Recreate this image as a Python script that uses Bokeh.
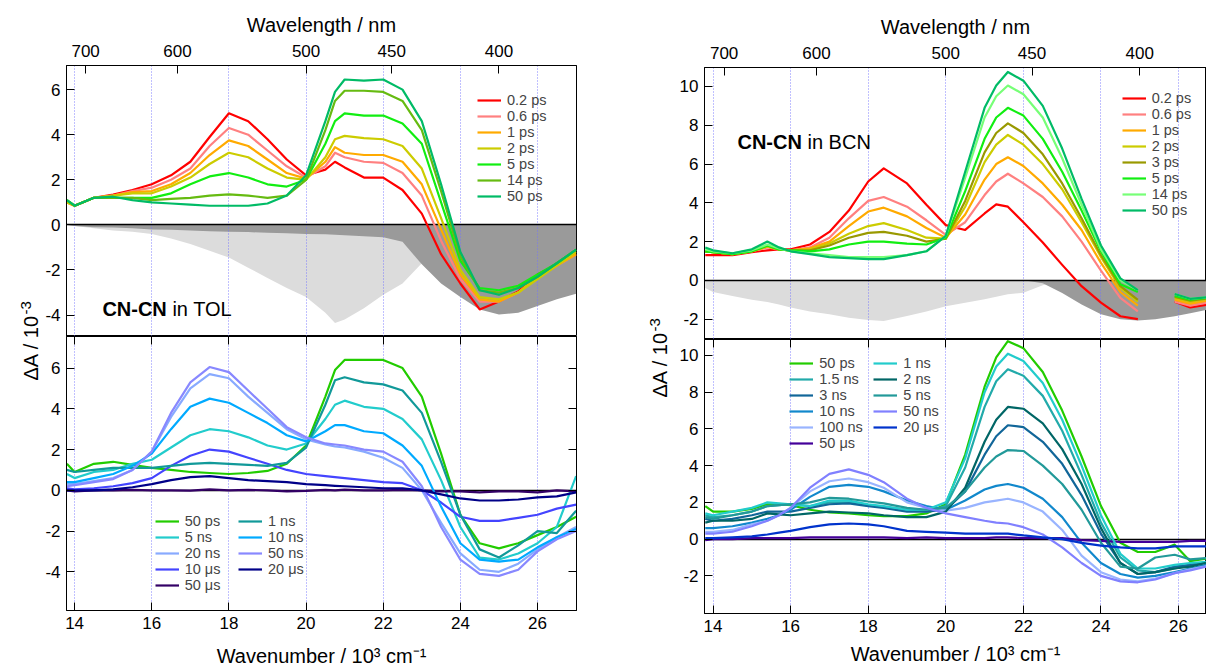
import math
from bokeh.plotting import figure
from bokeh.models import (Range1d, FixedTicker, LinearAxis, CustomJSTickFormatter,
                          Legend, LegendItem, Label)
from bokeh.layouts import row, column
from bokeh.embed import file_html
from bokeh.resources import INLINE

NaN = float("nan")
FONT = "Liberation Sans"

# ---------------- axes / ticks ----------------
WL_TICKS = [700, 600, 500, 450, 400]          # nm, top axis
GRID_X = [14, 16, 18, 20, 22, 24, 26]          # 10^3 cm^-1
Y_TICKS_TOL = [-4, -2, 0, 2, 4, 6]
Y_TICKS_BCN = [-2, 0, 2, 4, 6, 8, 10]

# ---------------- CN-CN in TOL ----------------
X_TOL = [13.8, 14.0, 14.5, 15.0, 15.5, 16.0, 16.5, 17.0, 17.5, 18.0, 18.5, 19.0, 19.5, 20.0,
         20.5, 20.75, 21.0, 21.5, 22.0, 22.5, 23.0, 23.5, 24.0, 24.5, 25.0, 25.5, 26.0, 26.5, 27.0]

TOL_EMI = [0.0, -0.05, -0.15, -0.25, -0.3, -0.4, -0.6, -0.85, -1.15, -1.45, -1.9, -2.35, -2.8, -3.2,
           -3.9, -4.35, -4.2, -3.7, -3.1, -2.6, -1.7, 0.0, 0.0, 0.0, 0.0, 0.0, 0.0, 0.0, 0.0]
TOL_ABS = [0.0, -0.05, -0.1, -0.12, -0.15, -0.2, -0.22, -0.25, -0.28, -0.3, -0.32, -0.35, -0.37, -0.4,
           -0.42, -0.44, -0.46, -0.5, -0.55, -0.75, -1.75, -2.6, -3.2, -3.75, -3.97, -3.9, -3.6, -3.3, -3.05]

TOL_LABELS_PS = ["0.2 ps", "0.6 ps", "1 ps", "2 ps", "5 ps", "14 ps", "50 ps"]
TOL_COLORS_PS = ["#ff0000", "#ff8080", "#ffaa00", "#cccc00", "#11ee11", "#66bb11", "#00bb66"]
T_02 = [1.0, 0.85, 1.2, 1.35, 1.55, 1.8, 2.2, 2.8, 3.9, 4.95, 4.6, 3.8, 2.9, 2.2,
        2.45, 2.8, 2.55, 2.1, 2.1, 1.55, 0.5, -1.3, -2.6, -3.75, -3.4, -2.95, -2.2, -1.75, -1.3]
T_06 = [1.0, 0.85, 1.2, 1.3, 1.5, 1.65, 2.0, 2.5, 3.5, 4.3, 4.0, 3.3, 2.6, 2.1,
        2.6, 3.2, 3.0, 2.8, 2.75, 2.3, 1.3, -0.7, -2.4, -3.4, -3.4, -3.0, -2.3, -1.8, -1.3]
T_1 = [1.0, 0.85, 1.2, 1.3, 1.45, 1.5, 1.8, 2.3, 3.1, 3.75, 3.5, 2.9, 2.3, 2.05,
       2.8, 3.45, 3.2, 3.1, 3.1, 2.8, 1.8, -0.2, -2.2, -3.3, -3.4, -3.0, -2.3, -1.8, -1.3]
T_2 = [1.0, 0.85, 1.2, 1.3, 1.4, 1.4, 1.7, 2.1, 2.7, 3.2, 3.0, 2.5, 2.1, 2.0,
       3.0, 3.8, 3.95, 3.85, 3.8, 3.5, 2.5, 0.3, -2.0, -3.2, -3.3, -3.0, -2.4, -1.8, -1.2]
T_5 = [1.1, 0.85, 1.2, 1.2, 1.2, 1.2, 1.4, 1.8, 2.15, 2.3, 2.1, 1.8, 1.7, 2.0,
       3.6, 4.6, 4.95, 4.85, 4.85, 4.5, 3.6, 1.0, -1.6, -2.8, -2.9, -2.7, -2.2, -1.7, -1.1]
T_14 = [1.1, 0.85, 1.2, 1.2, 1.2, 1.1, 1.15, 1.2, 1.3, 1.35, 1.3, 1.2, 1.3, 2.0,
        4.2, 5.5, 5.95, 5.95, 5.9, 5.5, 4.2, 1.5, -1.4, -2.9, -3.0, -2.8, -2.3, -1.7, -1.1]
T_50 = [1.1, 0.85, 1.2, 1.25, 1.1, 1.0, 0.95, 0.9, 0.85, 0.85, 0.85, 0.95, 1.3, 2.2,
        4.6, 5.9, 6.45, 6.4, 6.45, 6.0, 4.6, 1.8, -1.2, -2.9, -3.1, -2.8, -2.3, -1.7, -1.1]

TOL_LABELS_L1 = ["50 ps", "5 ns", "20 ns", "10 μs", "50 μs"]
TOL_COLORS_L1 = ["#22cc00", "#22cccc", "#88aaff", "#4444ff", "#330066"]
TOL_LABELS_L2 = ["1 ns", "10 ns", "50 ns", "20 μs"]
TOL_COLORS_L2 = ["#119999", "#00aaff", "#8888ff", "#000088"]
B_50PS = [1.3, 0.9, 1.3, 1.4, 1.25, 1.1, 1.0, 0.9, 0.85, 0.8, 0.85, 0.95, 1.3, 2.2,
          4.6, 5.9, 6.4, 6.4, 6.4, 6.0, 4.6, 1.8, -1.2, -2.6, -2.85, -2.6, -2.2, -1.8, -1.3]
B_1NS = [1.0, 0.9, 1.0, 1.1, 1.1, 1.1, 1.2, 1.3, 1.35, 1.3, 1.25, 1.2, 1.35, 2.1,
         4.2, 5.4, 5.55, 5.3, 5.2, 4.9, 3.8, 1.4, -1.2, -2.9, -3.3, -2.7, -2.0, -2.1, -1.0]
B_5NS = [0.8, 0.6, 0.9, 1.0, 1.3, 1.5, 2.1, 2.7, 3.0, 2.9, 2.6, 2.2, 2.0, 2.3,
         3.5, 4.2, 4.4, 4.1, 4.0, 3.5, 2.5, 0.5, -1.8, -3.3, -3.4, -3.1, -2.6, -1.8, 0.7]
B_10NS = [0.4, 0.4, 0.6, 0.8, 1.2, 1.8, 3.0, 4.1, 4.5, 4.3, 3.8, 3.3, 2.7, 2.4,
          2.9, 3.2, 3.2, 2.9, 2.8, 2.2, 1.2, -0.8, -2.6, -3.4, -3.5, -3.4, -2.8, -2.3, -1.9]
B_20NS = [0.3, 0.3, 0.45, 0.6, 1.0, 1.9, 3.6, 5.0, 5.7, 5.5, 4.6, 3.8, 3.0, 2.5,
          2.25, 2.15, 2.1, 1.9, 1.6, 1.1, 0.0, -1.6, -3.1, -3.9, -4.0, -3.6, -2.9, -2.3, -1.8]
B_50NS = [0.2, 0.25, 0.4, 0.55, 1.0, 1.9, 3.8, 5.3, 6.05, 5.8, 4.9, 4.0, 3.1, 2.6,
          2.3, 2.25, 2.2, 2.0, 1.9, 1.4, 0.2, -1.8, -3.4, -4.1, -4.2, -3.9, -3.0, -2.4, -2.0]
B_10US = [0.1, 0.05, 0.1, 0.2, 0.35, 0.6, 1.2, 1.7, 2.0, 1.9, 1.6, 1.3, 1.0, 0.8,
          0.7, 0.65, 0.6, 0.5, 0.4, 0.35, 0.0, -0.6, -1.3, -1.5, -1.5, -1.35, -1.2, -0.9, -0.7]
B_20US = [0.0, 0.0, 0.0, 0.05, 0.15, 0.3, 0.5, 0.65, 0.7, 0.6, 0.5, 0.45, 0.4, 0.3,
          0.25, 0.22, 0.2, 0.15, 0.1, 0.1, 0.0, -0.2, -0.4, -0.5, -0.5, -0.45, -0.35, -0.3, -0.1]
B_50US = [0.0, -0.05, 0.0, 0.0, 0.02, 0.0, 0.0, -0.02, 0.05, 0.0, 0.02, 0.0, -0.05, -0.03,
          0.02, 0.0, 0.03, 0.0, 0.0, 0.02, 0.0, -0.05, -0.05, -0.1, -0.05, -0.05, -0.1, 0.0, -0.05]

# ---------------- CN-CN in BCN ----------------
X_BCN = [13.8, 14.0, 14.5, 15.0, 15.4, 15.7, 16.0, 16.5, 17.0, 17.5, 18.0, 18.4, 19.0, 19.5, 20.0,
         20.5, 21.0, 21.3, 21.6, 22.0, 22.5, 23.0, 23.5, 24.0, 24.5, 24.95, 25.4, 25.9, 26.3, 26.9]

BCN_EMI = [-0.4, -0.6, -0.8, -1.0, -1.12, -1.25, -1.4, -1.6, -1.75, -1.93, -2.05, -2.1, -1.84, -1.6, -1.33,
           -1.15, -0.98, -0.85, -0.72, -0.64, -0.25, 0.0, 0.0, 0.0, 0.0, 0.0, 0.0, 0.0, 0.0, 0.0]
BCN_ABS = [0.0, 0.0, 0.0, 0.0, 0.0, 0.0, 0.0, 0.0, 0.0, 0.0, 0.0, 0.0, 0.0, 0.0, 0.0,
           0.0, 0.0, 0.0, 0.0, 0.0, -0.15, -0.65, -1.25, -1.75, -2.0, -2.07, -2.0, -1.85, -1.7, -1.45]

BCN_LABELS_PS = ["0.2 ps", "0.6 ps", "1 ps", "2 ps", "3 ps", "5 ps", "14 ps", "50 ps"]
BCN_COLORS_PS = ["#ff0000", "#ff8080", "#ffaa00", "#cccc00", "#999900", "#11ee11", "#77ff77", "#00bb66"]
R_02 = [1.3, 1.3, 1.3, 1.45, 1.55, 1.6, 1.6, 1.85, 2.5, 3.6, 5.1, 5.78, 5.0, 3.9, 2.85,
        2.6, 3.45, 3.92, 3.8, 3.0, 1.95, 0.8, -0.3, -1.15, -1.85, -2.0, NaN, -1.1, -1.4, -1.2]
R_06 = [1.5, 1.45, 1.35, 1.5, 1.7, 1.6, 1.55, 1.7, 2.2, 3.2, 4.1, 4.3, 3.8, 3.1, 2.35,
        3.0, 4.4, 5.1, 5.5, 5.0, 4.3, 3.3, 2.0, 0.5, -0.9, -1.6, NaN, -1.1, -1.3, -1.1]
R_1 = [1.5, 1.45, 1.35, 1.5, 1.75, 1.6, 1.55, 1.65, 2.0, 2.8, 3.55, 3.75, 3.3, 2.7, 2.2,
       3.4, 5.2, 6.0, 6.35, 5.9, 5.0, 3.9, 2.6, 0.9, -0.6, -1.3, NaN, -1.0, -1.2, -1.0]
R_2 = [1.5, 1.45, 1.35, 1.5, 1.75, 1.6, 1.55, 1.6, 1.9, 2.4, 2.8, 2.95, 2.6, 2.2, 2.15,
       3.8, 6.1, 7.0, 7.5, 7.0, 6.0, 4.7, 3.0, 1.2, -0.4, -1.1, NaN, -0.9, -1.1, -0.9]
R_3 = [1.5, 1.45, 1.35, 1.5, 1.8, 1.6, 1.55, 1.55, 1.8, 2.2, 2.45, 2.5, 2.3, 2.0, 2.15,
       4.1, 6.6, 7.6, 8.1, 7.6, 6.5, 5.0, 3.2, 1.3, -0.3, -1.0, NaN, -0.85, -1.05, -0.9]
R_5 = [1.5, 1.45, 1.35, 1.5, 1.8, 1.6, 1.55, 1.5, 1.6, 1.85, 2.0, 2.0, 1.9, 1.85, 2.2,
       4.6, 7.3, 8.4, 8.9, 8.5, 7.3, 5.6, 3.6, 1.5, -0.2, -0.6, NaN, -0.8, -1.0, -0.85]
R_14 = [1.6, 1.5, 1.4, 1.55, 1.85, 1.65, 1.5, 1.4, 1.3, 1.2, 1.2, 1.2, 1.3, 1.5, 2.3,
        5.3, 8.4, 9.5, 10.05, 9.6, 8.4, 6.3, 3.9, 1.6, 0.0, -0.5, NaN, -0.7, -0.95, -0.85]
R_50 = [1.7, 1.55, 1.4, 1.6, 2.0, 1.7, 1.5, 1.35, 1.2, 1.15, 1.1, 1.1, 1.3, 1.5, 2.3,
        5.6, 8.9, 10.05, 10.75, 10.3, 9.0, 6.8, 4.2, 1.8, 0.1, -0.5, NaN, -0.7, -0.95, -0.85]

BCN_LABELS_L1 = ["50 ps", "1.5 ns", "3 ns", "10 ns", "100 ns", "50 μs"]
BCN_COLORS_L1 = ["#22cc00", "#22aaaa", "#116699", "#1188cc", "#99b4ff", "#440099"]
BCN_LABELS_L2 = ["1 ns", "2 ns", "5 ns", "50 ns", "20 μs"]
BCN_COLORS_L2 = ["#22cccc", "#006666", "#229999", "#8080ff", "#0033cc"]
BB_50PS = [1.8, 1.5, 1.5, 1.65, 1.9, 1.9, 1.85, 1.6, 1.45, 1.4, 1.3, 1.25, 1.25, 1.4, 1.9,
           4.6, 8.3, 9.9, 10.78, 10.4, 9.1, 7.0, 4.5, 1.8, -0.2, -0.7, -0.7, -0.3, -1.2, -1.0]
BB_15NS = [1.3, 1.2, 1.3, 1.5, 1.8, 1.85, 1.9, 1.8, 2.0, 2.0, 1.85, 1.75, 1.6, 1.5, 1.8,
           3.9, 7.2, 8.6, 9.25, 8.9, 7.8, 5.9, 3.5, 0.9, -1.0, -1.7, -1.8, -1.6, -1.4, -1.2]
BB_3NS = [1.1, 1.0, 1.1, 1.3, 1.5, 1.5, 1.5, 1.7, 1.9, 1.95, 1.8, 1.7, 1.5, 1.5, 1.6,
          2.6, 4.6, 5.6, 6.2, 6.1, 5.3, 4.1, 2.4, 0.3, -1.3, -1.9, -1.8, -1.5, -1.4, -1.2]
BB_10NS = [0.6, 0.6, 0.7, 0.9, 1.1, 1.3, 1.6, 2.3, 2.85, 2.95, 2.85, 2.6, 2.1, 1.8, 1.6,
           2.1, 2.7, 2.9, 3.0, 2.8, 2.2, 1.2, -0.2, -1.3, -1.9, -2.1, -2.0, -1.8, -1.6, -1.3]
BB_100NS = [0.4, 0.4, 0.5, 0.8, 1.0, 1.3, 1.7, 2.6, 3.15, 3.3, 3.1, 2.8, 2.0, 1.7, 1.55,
            1.7, 2.0, 2.1, 2.2, 2.0, 1.5, 0.5, -0.9, -1.8, -2.2, -2.3, -2.15, -1.85, -1.65, -1.4]
BB_50US = [-0.05, 0.0, 0.0, 0.05, 0.05, 0.05, 0.05, 0.1, 0.1, 0.1, 0.1, 0.1, 0.05, 0.1, 0.05,
           0.05, 0.05, 0.1, 0.1, 0.05, 0.05, 0.05, -0.05, -0.1, -0.15, -0.15, -0.15, -0.15, -0.1, -0.1]
BB_1NS = [1.4, 1.3, 1.5, 1.7, 2.0, 1.95, 1.9, 1.8, 2.1, 2.1, 1.9, 1.8, 1.6, 1.6, 2.0,
          4.4, 8.0, 9.4, 10.1, 9.7, 8.5, 6.5, 4.0, 1.3, -0.8, -1.6, -1.6, -1.4, -1.3, -1.2]
BB_2NS = [0.9, 1.0, 1.0, 1.1, 1.4, 1.35, 1.3, 1.4, 1.5, 1.45, 1.4, 1.3, 1.2, 1.2, 1.5,
          2.8, 5.3, 6.5, 7.2, 7.1, 6.3, 4.9, 3.0, 0.6, -1.3, -1.9, -1.8, -1.6, -1.5, -1.2]
BB_5NS = [1.2, 1.1, 1.3, 1.5, 1.8, 1.85, 1.9, 2.0, 2.25, 2.2, 2.05, 1.95, 1.7, 1.6, 1.7,
          2.6, 3.9, 4.5, 4.85, 4.8, 4.0, 3.0, 1.6, -0.2, -1.5, -1.6, -1.0, -0.85, -1.1, -1.0]
BB_50NS = [0.3, 0.3, 0.4, 0.7, 1.0, 1.3, 1.7, 2.8, 3.55, 3.8, 3.5, 3.1, 2.2, 1.7, 1.4,
           1.2, 1.0, 0.9, 0.85, 0.65, 0.25, -0.45, -1.3, -2.0, -2.3, -2.35, -2.2, -1.85, -1.7, -1.4]
BB_20US = [0.05, 0.05, 0.1, 0.15, 0.25, 0.35, 0.45, 0.65, 0.8, 0.85, 0.8, 0.7, 0.45, 0.4, 0.35,
           0.3, 0.3, 0.3, 0.3, 0.2, 0.1, 0.0, -0.2, -0.35, -0.45, -0.5, -0.5, -0.4, -0.4, -0.4]

TOL_TOP = [T_02, T_06, T_1, T_2, T_5, T_14, T_50]
TOL_BOT1 = [B_50PS, B_5NS, B_20NS, B_10US, B_50US]
TOL_BOT2 = [B_1NS, B_10NS, B_50NS, B_20US]
BCN_TOP = [R_02, R_06, R_1, R_2, R_3, R_5, R_14, R_50]
BCN_BOT1 = [BB_50PS, BB_15NS, BB_3NS, BB_10NS, BB_100NS, BB_50US]
BCN_BOT2 = [BB_1NS, BB_2NS, BB_5NS, BB_50NS, BB_20US]

for s in TOL_TOP + TOL_BOT1 + TOL_BOT2 + [TOL_EMI, TOL_ABS]:
    assert len(s) == len(X_TOL)
for s in BCN_TOP + BCN_BOT1 + BCN_BOT2 + [BCN_EMI, BCN_ABS]:
    assert len(s) == len(X_BCN)

ROW_H = 16  # legend row pitch in px

# ---------------- helpers ----------------
def style_axis(ax, labels=True):
    ax.major_tick_in = 8
    ax.major_tick_out = 0
    ax.minor_tick_line_color = None
    ax.axis_line_color = "black"
    ax.major_tick_line_color = "black"
    ax.major_label_text_font = FONT
    ax.axis_label_text_font = FONT
    ax.axis_label_text_font_size = "20px"
    ax.axis_label_text_font_style = "normal"
    ax.axis_label_text_color = "black"
    if labels:
        ax.major_label_text_color = "black"
        ax.major_label_text_font_size = "17px"
        ax.major_label_standoff = 6
    else:
        ax.major_label_text_color = None
        ax.major_label_text_font_size = "1px"
        ax.major_label_standoff = 0


def make_fig(width, height, xr, yr, mbl, mbr, mbt, mbb, xloc):
    p = figure(width=width, height=height, x_range=Range1d(*xr), y_range=Range1d(*yr),
               x_axis_location=xloc, toolbar_location=None, output_backend="svg",
               min_border_left=mbl, min_border_right=mbr, min_border_top=mbt,
               min_border_bottom=mbb)
    p.grid.visible = False
    p.outline_line_color = "black"
    p.outline_line_alpha = 1.0
    p.outline_line_width = 1
    p.background_fill_color = "white"
    p.border_fill_color = "white"
    return p


def y_axis(p, ticks):
    ax = p.yaxis[0]
    ax.ticker = FixedTicker(ticks=ticks)
    ax.formatter = CustomJSTickFormatter(code="return tick.toFixed(0);")
    style_axis(ax)


def add_guides(p):
    p.vspan(x=GRID_X, line_color="#7474ff", line_dash="1 2", line_width=1, line_alpha=0.9)
    p.hspan(y=[0], line_color="black", line_width=1.3)


def add_legend(p, items, vx, frame_h, top_offset):
    vy = frame_h - top_offset - ROW_H * len(items)
    leg = Legend(items=items, location=(vx, vy), padding=0, margin=0, spacing=0,
                 glyph_width=24, glyph_height=ROW_H, label_height=ROW_H, label_standoff=6,
                 label_text_font=FONT, label_text_font_size="14.5px",
                 background_fill_alpha=0, border_line_color=None)
    p.add_layout(leg)


def draw_curves(p, x, series, colors, labels):
    items = []
    for ys, c, lab in zip(series, colors, labels):
        r = p.line(x=x, y=ys, line_color=c, line_width=2.2, line_join="round")
        items.append(LegendItem(label=lab, renderers=[r]))
    return items


def wavelength_axis(p):
    ax = p.xaxis[0]
    ax.ticker = FixedTicker(ticks=[1e4 / w for w in WL_TICKS])
    ax.formatter = CustomJSTickFormatter(code="return (10000 / tick).toFixed(0);")
    ax.axis_label = "Wavelength / nm"
    style_axis(ax)
    ax.major_label_standoff = 9
    ax.axis_label_standoff = 6


def wavenumber_axis(p, label_standoff):
    ax = p.xaxis[0]
    ax.ticker = FixedTicker(ticks=GRID_X)
    ax.axis_label = "Wavenumber / 10³ cm⁻¹"
    style_axis(ax)
    ax.major_label_standoff = 6
    ax.axis_label_standoff = label_standoff


def tick_only_axis(p, ticks, side):
    ax = LinearAxis(ticker=FixedTicker(ticks=ticks))
    style_axis(ax, labels=False)
    p.add_layout(ax, side)


def y_label_fig(width, height, x_main, y_main, x_sup, y_sup):
    f = figure(width=width, height=height, x_range=Range1d(0, width), y_range=Range1d(0, height),
               toolbar_location=None, output_backend="svg", x_axis_type=None, y_axis_type=None,
               min_border=0)
    f.grid.visible = False
    f.outline_line_color = None
    f.add_layout(Label(x=x_main, y=y_main, text="ΔA / 10", angle=math.pi / 2,
                       text_align="left", text_baseline="middle", text_font=FONT,
                       text_font_size="20px", text_color="black"))
    f.add_layout(Label(x=x_sup, y=y_sup, text="-3", angle=math.pi / 2,
                       text_align="left", text_baseline="middle", text_font=FONT,
                       text_font_size="15px", text_color="black"))
    return f


def sample_label(p, x, y, bold, rest):
    p.add_layout(Label(x=x, y=y, text=bold, text_font=FONT, text_font_style="bold",
                       text_font_size="20px", text_baseline="middle", text_color="black"))
    p.add_layout(Label(x=x, y=y, x_offset=70, text=rest, text_font=FONT,
                       text_font_size="20px", text_baseline="middle", text_color="black"))


# ---------------- TOL column ----------------
XR_TOL = (13.79, 27.01)
lt = make_fig(539, 336, XR_TOL, (-4.95, 7.07), 21, 5, 65, 0, "above")
wavelength_axis(lt)
y_axis(lt, Y_TICKS_TOL)
lt.varea(x=X_TOL, y1=0, y2=TOL_EMI, fill_color="#dcdcdc")
lt.varea(x=X_TOL, y1=0, y2=TOL_ABS, fill_color="#9a9a9a")
add_guides(lt)
items = draw_curves(lt, X_TOL, TOL_TOP, TOL_COLORS_PS, TOL_LABELS_PS)
add_legend(lt, items, 411, 271, 26.7)
sample_label(lt, 14.72, -3.71, "CN-CN", "in TOL")

lb = make_fig(539, 333, XR_TOL, (-5.9, 7.55), 21, 5, 0, 59, "below")
wavenumber_axis(lb, 13)
y_axis(lb, Y_TICKS_TOL)
tick_only_axis(lb, GRID_X, "above")
tick_only_axis(lb, Y_TICKS_TOL, "right")
add_guides(lb)
items1 = draw_curves(lb, X_TOL, TOL_BOT1, TOL_COLORS_L1, TOL_LABELS_L1)
items2 = draw_curves(lb, X_TOL, TOL_BOT2, TOL_COLORS_L2, TOL_LABELS_L2)
add_legend(lb, items1, 88.7, 274, 177.3)
add_legend(lb, items2, 172, 274, 177.3)

# ---------------- BCN column ----------------
XR_BCN = (13.78, 26.72)
rt = make_fig(531, 339, XR_BCN, (-3.05, 10.98), 29, 0, 67, 0, "above")
wavelength_axis(rt)
y_axis(rt, Y_TICKS_BCN)
rt.varea(x=X_BCN, y1=0, y2=BCN_EMI, fill_color="#dcdcdc")
rt.varea(x=X_BCN, y1=0, y2=BCN_ABS, fill_color="#9a9a9a")
add_guides(rt)
items = draw_curves(rt, X_BCN, BCN_TOP, BCN_COLORS_PS, BCN_LABELS_PS)
add_legend(rt, items, 417.7, 272, 23.3)
sample_label(rt, 14.63, 7.13, "CN-CN", "in BCN")

rb = make_fig(531, 330, XR_BCN, (-4.05, 10.87), 29, 0, 0, 56, "below")
wavenumber_axis(rb, 8)
y_axis(rb, Y_TICKS_BCN)
tick_only_axis(rb, GRID_X, "above")
add_guides(rb)
items1 = draw_curves(rb, X_BCN, BCN_BOT1, BCN_COLORS_L1, BCN_LABELS_L1)
items2 = draw_curves(rb, X_BCN, BCN_BOT2, BCN_COLORS_L2, BCN_LABELS_L2)
add_legend(rb, items1, 85.3, 274, 16.3)
add_legend(rb, items2, 169.3, 274, 16.3)

left_label = y_label_fig(42, 669, 30, 289, 25, 355)
right_label = y_label_fig(94, 669, 78, 272, 73, 338)

layout = row(left_label, column(lt, lb), right_label, column(rt, rb))
open("out.html", "w").write(file_html(layout, INLINE, "CN-CN transient absorption"))
